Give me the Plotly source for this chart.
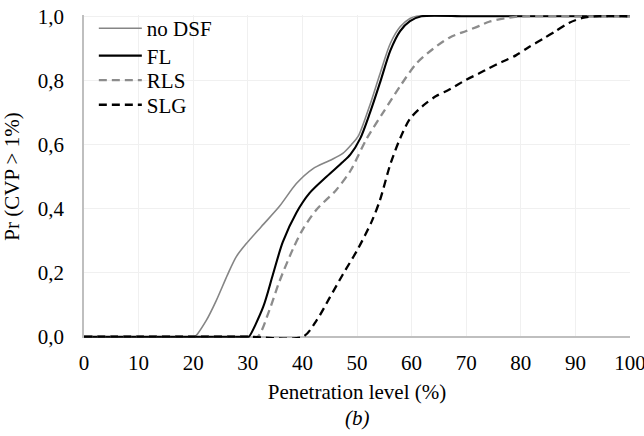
import plotly.graph_objects as go

# ---- data ----
nodsf_x = [0, 10, 20, 20.3, 22.4, 24.2, 26.3, 27.9, 29.7, 32.5, 35.8, 38.9, 41.9, 45, 47.4, 49, 50.2, 52.4, 54.2, 56.1, 57.9, 59.7, 60.9, 70, 80, 90, 100]
nodsf_y = [0, 0, 0, 0, 0.051, 0.112, 0.194, 0.25, 0.29, 0.344, 0.407, 0.478, 0.524, 0.55, 0.572, 0.60, 0.625, 0.725, 0.82, 0.915, 0.967, 0.993, 1.0, 1.0, 1.0, 1.0, 1.0]

fl_x = [0, 10, 20, 30, 30.2, 32.8, 34.6, 36.4, 38.9, 41.3, 44.4, 47.4, 48.8, 50.6, 52.4, 54.2, 56.1, 57.9, 59.7, 61.8, 70, 80, 90, 100]
fl_y = [0, 0, 0, 0, 0, 0.092, 0.194, 0.295, 0.387, 0.448, 0.499, 0.545, 0.569, 0.619, 0.70, 0.792, 0.893, 0.954, 0.985, 1.0, 1.0, 1.0, 1.0, 1.0]

rls_x = [0, 10, 20, 30, 31.8, 34, 35.8, 38.3, 40.1, 42.6, 46.2, 48.8, 51.8, 54.8, 57.9, 60.9, 63.9, 67, 70, 72.4, 74.2, 77.9, 80.3, 90, 100]
rls_y = [0, 0, 0, 0, 0, 0.085, 0.173, 0.275, 0.336, 0.397, 0.458, 0.518, 0.619, 0.70, 0.782, 0.853, 0.898, 0.934, 0.954, 0.97, 0.983, 0.996, 1.0, 1.0, 1.0]

slg_x = [0, 10, 20, 30, 40.1, 42.6, 45, 47.4, 50.2, 52.7, 54.2, 56.1, 57.9, 59.7, 62.1, 64.5, 67, 70, 72.4, 74.2, 76.6, 79.1, 81.5, 84, 86.4, 88.9, 91.3, 93.8, 100]
slg_y = [0, 0, 0, 0, 0, 0.051, 0.122, 0.194, 0.275, 0.36, 0.426, 0.538, 0.619, 0.68, 0.721, 0.751, 0.772, 0.802, 0.822, 0.838, 0.858, 0.878, 0.904, 0.929, 0.954, 0.98, 0.995, 1.0, 1.0]

x_ticks = [0, 10, 20, 30, 40, 50, 60, 70, 80, 90, 100]
y_ticks = [0, 0.2, 0.4, 0.6, 0.8, 1.0]
y_ticktext = ["0,0", "0,2", "0,4", "0,6", "0,8", "1,0"]

FONT = "Liberation Serif"
F = dict(family=FONT, size=21, color="black")

fig = go.Figure()
series = [
    ("no DSF", nodsf_x, nodsf_y, "#858585", "solid", 1.6, "legend"),
    ("FL", fl_x, fl_y, "#000000", "solid", 2.1, "legend2"),
    ("RLS", rls_x, rls_y, "#8c8c8c", "8px,5px", 2.3, "legend3"),
    ("SLG", slg_x, slg_y, "#000000", "8px,5px", 2.3, "legend4"),
]
for name, xs, ys, col, dash, w, lg in series:
    fig.add_trace(go.Scatter(
        x=xs, y=ys, name=name, mode="lines", legend=lg,
        line=dict(color=col, dash=dash, width=w, shape="spline", smoothing=0.8),
    ))

def leg(yc):
    return dict(x=0.018, y=yc, xanchor="left", yanchor="middle", itemwidth=43,
                bgcolor="rgba(0,0,0,0)", font=F, borderwidth=0)

fig.update_layout(
    template="none",
    width=644, height=436,
    margin=dict(l=84, r=14, t=8, b=98),
    paper_bgcolor="white", plot_bgcolor="white",
    font=F,
    showlegend=True,
    legend=leg(0.958), legend2=leg(0.873), legend3=leg(0.797), legend4=leg(0.721),
    xaxis=dict(
        range=[0, 100], tickvals=x_ticks, ticks="", showgrid=True,
        gridcolor="#f0f0f0", gridwidth=1, zeroline=False, showline=False,
        ticklabelstandoff=10, automargin=False, ticklabeloverflow="allow",
        tickfont=F,
        title=dict(text="Penetration level (%)", standoff=10, font=F),
    ),
    yaxis=dict(
        range=[-0.004, 1.004], tickvals=y_ticks, ticktext=y_ticktext, ticks="",
        showgrid=True, gridcolor="#f0f0f0", gridwidth=1,
        zeroline=True, zerolinecolor="#bfbfbf", zerolinewidth=1.5,
        showline=True, linecolor="#bfbfbf", linewidth=1.5,
        ticklabelstandoff=14, automargin=False, ticklabeloverflow="allow",
        tickfont=F,
        title=dict(text="Pr (CVP > 1%)", standoff=12, font=F),
    ),
    annotations=[dict(text="<i>(b)</i>", xref="paper", yref="paper",
                      x=0.5, y=-0.248, xanchor="center", yanchor="middle",
                      showarrow=False, font=F)],
)

fig.write_html("out.html")
